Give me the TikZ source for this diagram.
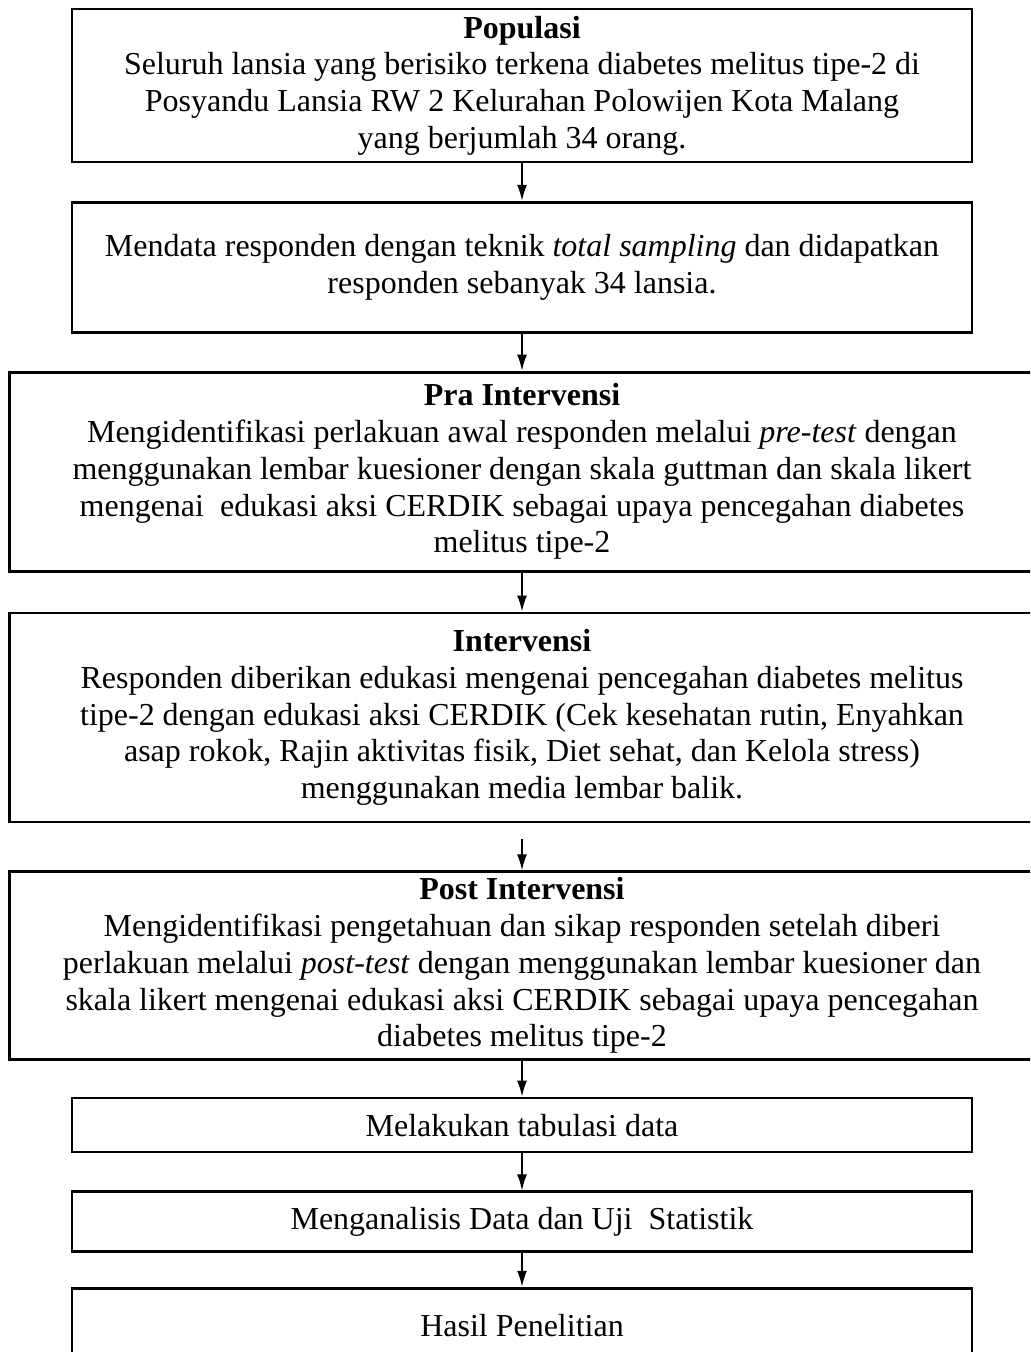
\documentclass[tikz,border=0pt]{standalone}
\usepackage{fontspec}
\setmainfont{Liberation Serif}
\usepackage{tikz}
\usetikzlibrary{positioning}
\usetikzlibrary{arrows.meta}

\begin{document}
\begin{tikzpicture}[>={Latex[length=0.32cm,width=0.2cm]},node distance=0.8cm,
	main box/.style={rectangle,draw,line width=1.6pt,align=center,inner sep=0pt,
		font=\fontsize{18.2}{20.9}\selectfont},
	wide box/.style={main box,minimum width=20.5cm},
	narrow box/.style={main box,minimum width=18cm}]
	
	\useasboundingbox (0,0) rectangle (20.6,-27.04);
	\clip (0,0) rectangle (20.6,-27.04);
	
	\node[narrow box,minimum height=3.06cm] (populasi) at (10.44,-1.71)
	{\textbf{Populasi}\\Seluruh lansia yang berisiko terkena diabetes melitus tipe-2 di\\
		Posyandu Lansia RW 2 Kelurahan Polowijen Kota Malang\\yang berjumlah 34 orang.};
	\node[narrow box,minimum height=2.6cm] (mendata) [below=0.75cm of populasi]
	{Mendata responden dengan teknik \textit{total sampling} dan didapatkan\\
		responden sebanyak 34 lansia.};
	\node[wide box,minimum height=3.98cm] (pra) [below=0.74cm of mendata]
	{\textbf{Pra Intervensi}\\
		Mengidentifikasi perlakuan awal responden melalui \textit{pre-test} dengan\\
		menggunakan lembar kuesioner dengan skala guttman dan skala likert\\
		mengenai \ edukasi aksi CERDIK sebagai upaya pencegahan diabetes\\
		melitus tipe-2};
	\node[wide box,minimum height=4.18cm] (intervensi) [below=0.78cm of pra]
	{\textbf{Intervensi}\\
		Responden diberikan edukasi mengenai pencegahan diabetes melitus\\
		tipe-2 dengan edukasi aksi CERDIK (Cek kesehatan rutin, Enyahkan\\
		asap rokok, Rajin aktivitas fisik, Diet sehat, dan Kelola stress)\\
		menggunakan media lembar balik.};
	\node[wide box,minimum height=3.76cm] (post) [below=0.94cm of intervensi]
	{\textbf{Post Intervensi}\\
		Mengidentifikasi pengetahuan dan sikap responden setelah diberi\\
		perlakuan melalui \textit{post-test} dengan menggunakan lembar kuesioner dan\\
		skala likert mengenai edukasi aksi CERDIK sebagai upaya pencegahan\\
		diabetes melitus tipe-2};
	\node[narrow box,minimum height=1.08cm] (tabulasi) [below=0.71cm of post]
	{Melakukan tabulasi data};
	\node[narrow box,minimum height=1.2cm] (analisis) [below=0.74cm of tabulasi]
	{Menganalisis Data dan Uji \ Statistik};
	\node[narrow box,minimum height=1.48cm] (hasil) [below=0.67cm of analisis]
	{Hasil Penelitian};
	
	\path[->,line width=1pt]
	(populasi) edge (mendata)
	(mendata) edge (pra)
	(pra) edge (intervensi)
	(intervensi) edge [shorten <=0.32cm] (post)
	(post) edge (tabulasi)
	(tabulasi) edge (analisis)
	(analisis) edge (hasil);
\end{tikzpicture}
\end{document}
